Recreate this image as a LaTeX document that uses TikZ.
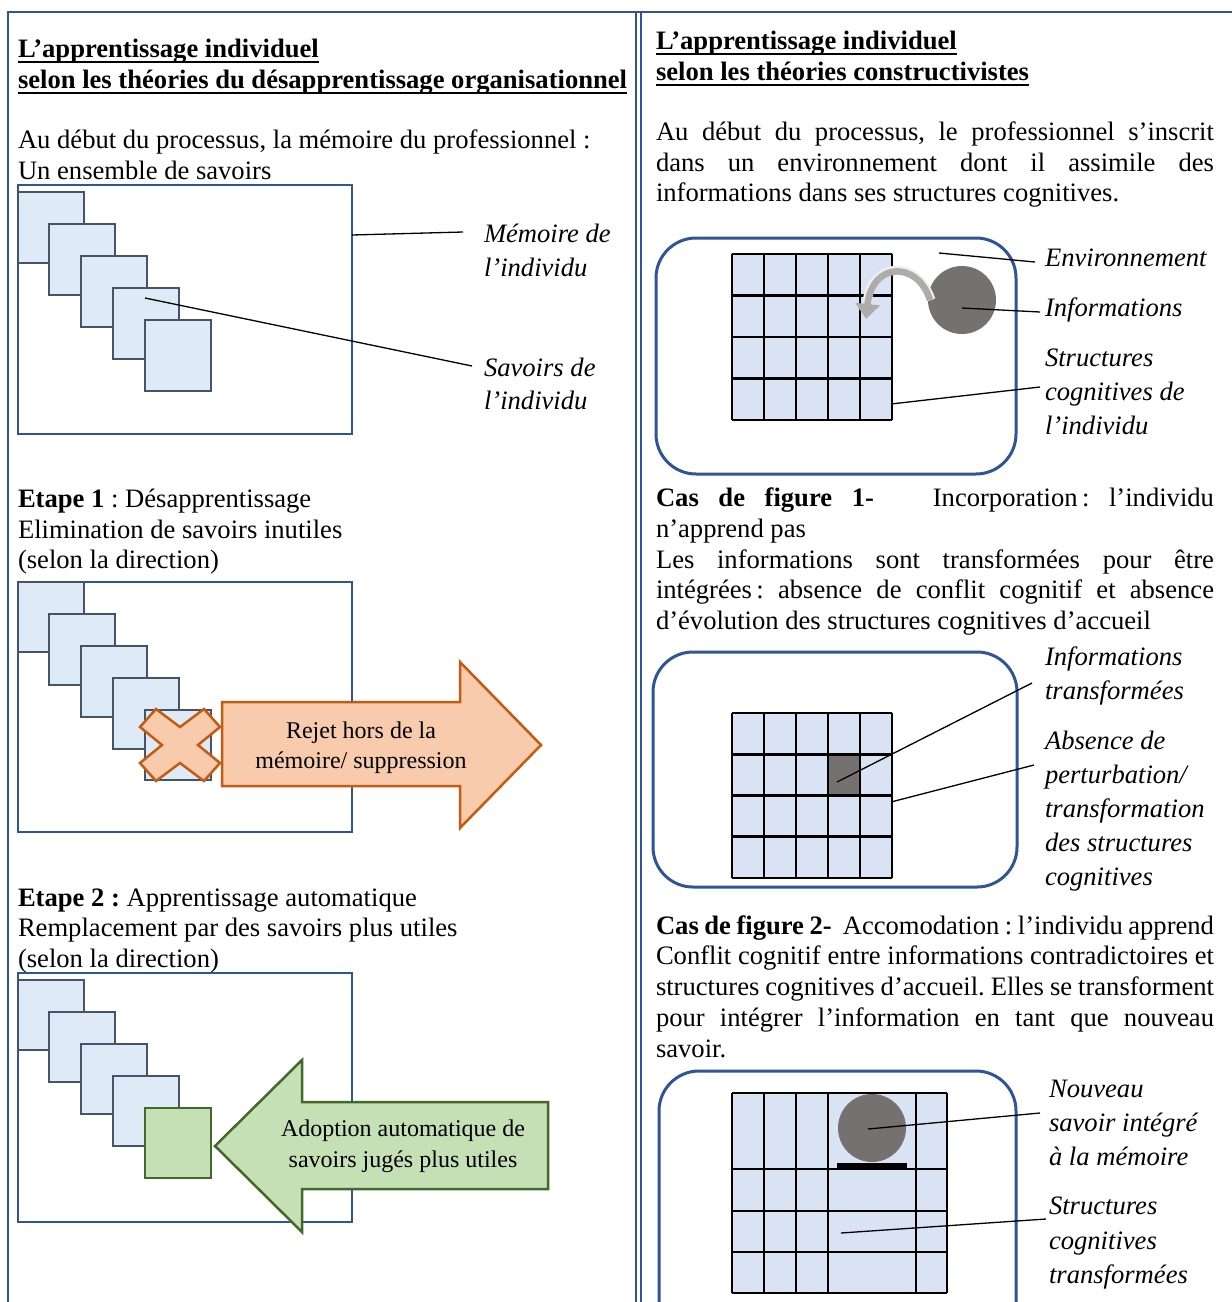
\documentclass[tikz,border=0pt]{standalone}
\usepackage{fontspec}
\setmainfont{Liberation Serif}
\usetikzlibrary{arrows.meta}
\definecolor{frameblue}{RGB}{47,85,151}
\definecolor{sqfill}{RGB}{222,235,247}
\definecolor{sqline}{RGB}{68,84,106}
\definecolor{gridfill}{RGB}{218,227,243}
\definecolor{darkgray}{RGB}{118,113,113}
\definecolor{orfill}{RGB}{248,203,173}
\definecolor{orline}{RGB}{197,90,17}
\definecolor{grfill}{RGB}{197,224,180}
\definecolor{grline}{RGB}{67,104,43}
\definecolor{arrgray}{RGB}{175,171,171}
\newcommand{\jl}[1]{\makebox[558pt][s]{#1}}
\tikzset{
  txt/.style={inner sep=0pt, outer sep=0pt, anchor=base west, font=\fontsize{26.6}{31}\selectfont\frenchspacing},
  ctxt/.style={txt, anchor=base, font=\fontsize{24}{29}\selectfont\frenchspacing},
  lbl/.style={txt, font=\fontsize{26.6}{31}\selectfont\frenchspacing\itshape},
  hd/.style={txt, font=\fontsize{26.6}{31}\selectfont\frenchspacing\bfseries},
  uline/.style={line width=2pt},
  frameline/.style={draw=frameblue, line width=2.5pt},
  membox/.style={draw=frameblue, line width=2.5pt},
  envbox/.style={draw=frameblue, line width=3pt, rounded corners=40pt},
  sq/.style={draw=sqline, fill=sqfill, line width=2.5pt},
  gsq/.style={draw=grline, fill=grfill, line width=2.5pt},
  gridline/.style={draw=black, line width=2.8pt},
  leader/.style={draw=black, line width=1.3pt},
  orarrow/.style={draw=orline, fill=orfill, line width=2.5pt, line join=miter},
  grarrow/.style={draw=grline, fill=grfill, line width=2.5pt, line join=miter},
}
\begin{document}
\begin{tikzpicture}[x=1pt, y=-1pt]
\useasboundingbox (0,0) rectangle (1232,1302);
\clip (0,0) rectangle (1232,1302);
\fill[white] (0,0) rectangle (1232,1302);
% outer frame
\draw[frameline] (8,1310) -- (8,12) -- (1240,12);
\draw[frameline] (636,12) -- (636,1310);
\draw[frameline] (641,12) -- (641,1310);

% ===================== LEFT COLUMN =====================
\node[hd] (lh1) at (18,57) {L’apprentissage individuel};
\node[hd] (lh2) at (18,88) {selon les théories du désapprentissage organisationnel};
\draw[uline] ([yshift=-5pt]lh1.base west) -- ([yshift=-5pt]lh1.base east);
\draw[uline] ([yshift=-5pt]lh2.base west) -- ([yshift=-5pt]lh2.base east);
\node[txt] (lp1) at (18,148) {Au début du processus, la mémoire du professionnel :};
\node[txt] (lp2) at (18,179) {Un ensemble de savoirs};

% box 1
\draw[membox] (18,185) rectangle (352,434);
\draw[sq] (18,192) rectangle (84,263);
\draw[sq] (49,224) rectangle (115,295);
\draw[sq] (81,256) rectangle (147,327);
\draw[sq] (113,288) rectangle (179,359);
\draw[sq] (145,320) rectangle (211,391);
\node[lbl] (mem1) at (484,242) {Mémoire de};
\node[lbl] (mem2) at (484,276) {l’individu};
\node[lbl] (sav1) at (484,376) {Savoirs de};
\node[lbl] (sav2) at (484,409) {l’individu};
\coordinate (memA) at (352,235);
\coordinate (memB) at (463,232);
\coordinate (savA) at (145,298);
\coordinate (savB) at (472,366);
\draw[leader] (memA) -- (memB);
\draw[leader] (savA) -- (savB);

% etape 1
\node[txt] (e1a) at (18,507) {\textbf{Etape 1} : Désapprentissage};
\node[txt] (e1b) at (18,538) {Elimination de savoirs inutiles};
\node[txt] (e1c) at (18,568) {(selon la direction)};
\draw[membox] (18,582) rectangle (352,832);
\draw[sq] (18,582) rectangle (84,652);
\draw[sq] (49,614) rectangle (115,685);
\draw[sq] (81,646) rectangle (147,717);
\draw[sq] (113,678) rectangle (179,749);
\draw[sq] (145,710) rectangle (211,780);
\draw[orarrow] (180,745) ++(-40,-18) -- ++(16,-18) -- ++(24,18) -- ++(24,-18) -- ++(16,18)
   -- ++(-22,18) -- ++(22,18) -- ++(-16,18) -- ++(-24,-18) -- ++(-24,18) -- ++(-16,-18) -- ++(22,-18) -- cycle;
\draw[orarrow] (222,702) -- (460,702) -- (460,662) -- (541,745) -- (460,828) -- (460,786) -- (222,786) -- cycle;
\node[ctxt] (rej1) at (361,738) {Rejet hors de la};
\node[ctxt] (rej2) at (361,768) {mémoire/ suppression};

% etape 2
\node[txt] (e2a) at (18,906) {\textbf{Etape 2 :} Apprentissage automatique};
\node[txt] (e2b) at (18,936) {Remplacement par des savoirs plus utiles};
\node[txt] (e2c) at (18,967) {(selon la direction)};
\draw[membox] (18,973) rectangle (352,1222);
\draw[sq] (18,980) rectangle (84,1050);
\draw[sq] (49,1012) rectangle (115,1082);
\draw[sq] (81,1044) rectangle (147,1114);
\draw[sq] (113,1076) rectangle (179,1146);
\draw[gsq] (145,1108) rectangle (211,1178);
\draw[grarrow] (548,1102) -- (302,1102) -- (302,1060) -- (215,1146) -- (302,1232) -- (302,1189) -- (548,1189) -- cycle;
\node[ctxt] (ado1) at (403,1136) {Adoption automatique de};
\node[ctxt] (ado2) at (403,1167) {savoirs jugés plus utiles};

% ===================== RIGHT COLUMN =====================
\node[hd] (rh1) at (656,49) {L’apprentissage individuel};
\node[hd] (rh2) at (656,80) {selon les théories constructivistes};
\draw[uline] ([yshift=-5pt]rh1.base west) -- ([yshift=-5pt]rh1.base east);
\draw[uline] ([yshift=-5pt]rh2.base west) -- ([yshift=-5pt]rh2.base east);
\node[txt] (rp1) at (656,140) {\jl{Au début du processus, le professionnel s’inscrit}};
\node[txt] (rp2) at (656,171) {\jl{dans un environnement dont il assimile des}};
\node[txt] (rp3) at (656,201) {informations dans ses structures cognitives.};

% env box 1
\draw[envbox] (656,238) rectangle (1016,474);
\fill[gridfill] (732,254) rectangle (892,420);
\foreach \x in {732,764,796,828,860,892} \draw[gridline] (\x,254) -- (\x,420);
\foreach \y in {254,295.5,337,378.5,420} \draw[gridline] (732,\y) -- (892,\y);
\fill[darkgray] (962,300) circle (34);
\draw[line width=9pt, white!80!arrgray] (931,300) .. controls (918,260) and (872,260) .. (867,302);
\draw[line width=6.5pt, arrgray, -{Triangle[width=24pt,length=15pt]}] (930,300) .. controls (918,261) and (872,261) .. (866,319);
\node[lbl] (env) at (1045,266) {Environnement};
\node[lbl] (inf) at (1045,316) {Informations};
\node[lbl] (str1) at (1045,366) {Structures};
\node[lbl] (str2) at (1045,400) {cognitives de};
\node[lbl] (str3) at (1045,434) {l’individu};
\coordinate (envA) at (939,253);
\coordinate (envB) at (1035,262);
\coordinate (infA) at (962,308);
\coordinate (infB) at (1040,312);
\coordinate (strA) at (891,404);
\coordinate (strB) at (1040,387);
\draw[leader] (envA) -- (envB);
\draw[leader] (infA) -- (infB);
\draw[leader] (strA) -- (strB);

% cas 1
\node[txt] (c1a) at (656,506) {\jl{\textbf{Cas de figure 1-}\ \ \ Incorporation\,: l’individu}};
\node[txt] (c1b) at (656,537) {n’apprend pas};
\node[txt] (c1c) at (656,568) {\jl{Les informations sont transformées pour être}};
\node[txt] (c1d) at (656,598) {\jl{intégrées\,: absence de conflit cognitif et absence}};
\node[txt] (c1e) at (656,629) {d’évolution des structures cognitives d’accueil};

\draw[envbox] (653,652) rectangle (1017,887);
\fill[gridfill] (732,713) rectangle (892,878);
\fill[darkgray] (828,754.25) rectangle (860,795.5);
\foreach \x in {732,764,796,828,860,892} \draw[gridline] (\x,713) -- (\x,878);
\foreach \y in {713,754.25,795.5,836.75,878} \draw[gridline] (732,\y) -- (892,\y);
\node[lbl] (it1) at (1045,665) {Informations};
\node[lbl] (it2) at (1045,699) {transformées};
\node[lbl] (ab1) at (1045,749) {Absence de};
\node[lbl] (ab2) at (1045,783) {perturbation/};
\node[lbl] (ab3) at (1045,817) {transformation};
\node[lbl] (ab4) at (1045,851) {des structures};
\node[lbl] (ab5) at (1045,885) {cognitives};
\coordinate (itA) at (837,782);
\coordinate (itB) at (1032,683);
\coordinate (abA) at (891,802);
\coordinate (abB) at (1034,765);
\draw[leader] (itA) -- (itB);
\draw[leader] (abA) -- (abB);

% cas 2
\node[txt] (c2a) at (656,934) {\jl{\textbf{Cas de figure 2-}\ \ Accomodation : l’individu apprend}};
\node[txt] (c2b) at (656,964) {\jl{Conflit cognitif entre informations contradictoires et}};
\node[txt] (c2c) at (656,995) {\jl{structures cognitives d’accueil. Elles se transforment}};
\node[txt] (c2d) at (656,1026) {\jl{pour intégrer l’information en tant que nouveau}};
\node[txt] (c2e) at (656,1057) {savoir.};

\draw[envbox] (659,1071) rectangle (1016,1345);
\fill[gridfill] (732,1093) rectangle (947,1293);
\foreach \x in {732,764,796,828,916,947} \draw[gridline] (\x,1093) -- (\x,1293);
\foreach \y in {1093,1169,1211,1252,1293} \draw[gridline] (732,\y) -- (947,\y);
\fill[darkgray] (872,1128) circle (34);
\fill[black] (837,1163) rectangle (907,1169);
\node[lbl] (nv1) at (1049,1097) {Nouveau};
\node[lbl] (nv2) at (1049,1131) {savoir intégré};
\node[lbl] (nv3) at (1049,1165) {à la mémoire};
\node[lbl] (st1) at (1049,1214) {Structures};
\node[lbl] (st2) at (1049,1249) {cognitives};
\node[lbl] (st3) at (1049,1283) {transformées};
\coordinate (nvA) at (868,1129);
\coordinate (nvB) at (1040,1113);
\coordinate (stA) at (841,1233);
\coordinate (stB) at (1046,1219);
\draw[leader] (nvA) -- (nvB);
\draw[leader] (stA) -- (stB);
\end{tikzpicture}
\end{document}
